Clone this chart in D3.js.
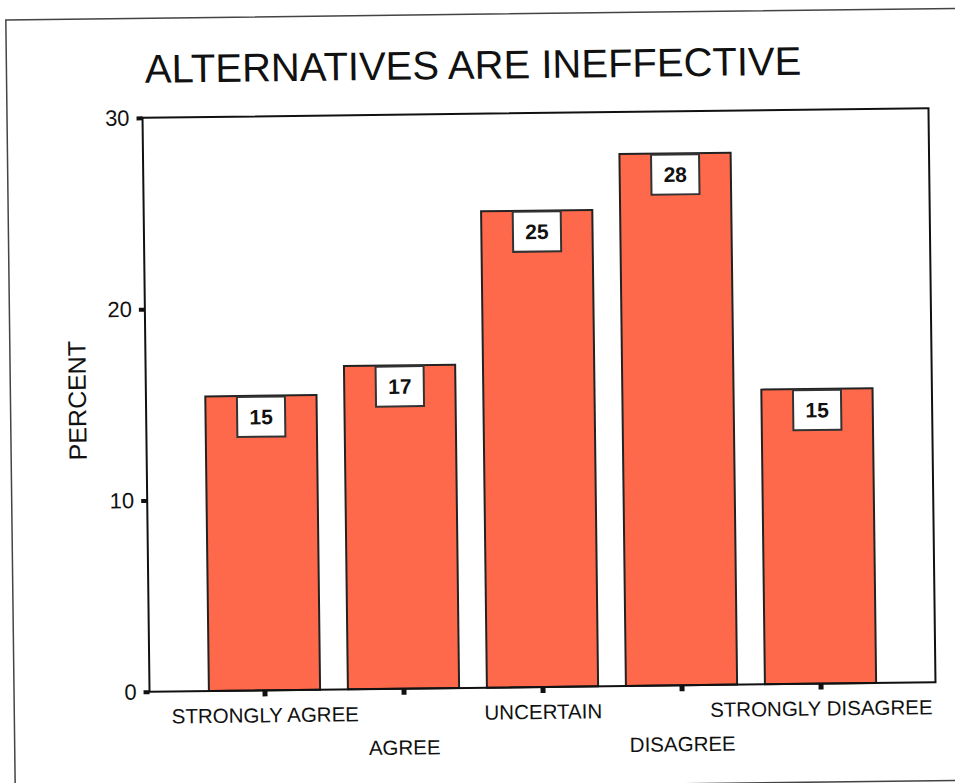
<!DOCTYPE html>
<html>
<head>
<meta charset="utf-8">
<script src="https://cdn.jsdelivr.net/npm/d3@7"></script>
<style>
  body { margin: 0; background: #fff; }
  svg { display: block; }
  text { font-family: "Liberation Sans", Arial, sans-serif; fill: #111; }
</style>
</head>
<body>
<div id="chart"></div>
<script>
// Data
const categories = ["STRONGLY AGREE", "AGREE", "UNCERTAIN", "DISAGREE", "STRONGLY DISAGREE"];
const percents = [15.4, 16.9, 24.9, 27.8, 15.4];
const yTicks = [0, 10, 20, 30];
const title = "ALTERNATIVES ARE INEFFECTIVE";
const yLabel = "PERCENT";

var W = 955, H = 783;
var margin = { top: 113, right: 23, bottom: 96, left: 146 },
    width = W - margin.left - margin.right,
    height = H - margin.top - margin.bottom;

var svg = d3.select("#chart")
    .append("svg")
    .attr("width", W)
    .attr("height", H);

// the original is a scan that sits a little tilted on the page
var page = svg.append("g")
    .attr("transform", "rotate(-0.7, 539, 400)");

// Outer border of the scanned page
page.append("rect")
    .attr("x", 10.5)
    .attr("y", 13.5)
    .attr("width", 1000)
    .attr("height", 772)
    .attr("fill", "none")
    .attr("stroke", "#444")
    .attr("stroke-width", 1.5);

// Title
page.append("text")
    .attr("x", 149)
    .attr("y", 78)
    .attr("font-size", 40)
    .text(title);

var g = page.append("g")
    .attr("transform", "translate(" + margin.left + "," + margin.top + ")");

// Scales
var x = d3.scalePoint()
    .domain(categories)
    .range([0, width])
    .padding(0.827);
var barW = x.step() * 0.8;

var y = d3.scaleLinear()
    .domain([0, 30])
    .range([height, 0]);

// Bars
g.append("g")
    .selectAll("rect")
    .data(percents)
    .enter()
    .append("rect")
    .attr("x", (d, i) => x(categories[i]) - barW / 2)
    .attr("y", d => y(d))
    .attr("width", barW)
    .attr("height", d => height - y(d))
    .attr("fill", "#ff694b")
    .attr("stroke", "#222")
    .attr("stroke-width", 2);

// Value boxes hanging from the top of each bar
var boxW = 48, boxH = 40;
var labels = g.append("g")
    .selectAll("g")
    .data(percents)
    .enter()
    .append("g")
    .attr("transform", (d, i) => "translate(" + x(categories[i]) + "," + (y(d) + 1) + ")");
labels.append("rect")
    .attr("x", -boxW / 2)
    .attr("y", 0)
    .attr("width", boxW)
    .attr("height", boxH)
    .attr("fill", "#fff")
    .attr("stroke", "#333")
    .attr("stroke-width", 2);
labels.append("text")
    .attr("text-anchor", "middle")
    .attr("y", boxH / 2 + 7.5)
    .attr("font-size", 21)
    .attr("font-weight", "bold")
    .text(d => Math.round(d));

// Plot frame
g.append("rect")
    .attr("width", width)
    .attr("height", height)
    .attr("fill", "none")
    .attr("stroke", "#111")
    .attr("stroke-width", 2);

// Y axis
var yAxis = g.append("g")
    .call(d3.axisLeft(y).tickValues(yTicks).tickSize(6).tickPadding(7));
yAxis.select(".domain").remove();
yAxis.selectAll("line").attr("stroke", "#111").attr("stroke-width", 4);
yAxis.selectAll("text")
    .attr("font-size", 22)
    .style("font-family", "'Liberation Sans', Arial, sans-serif")
    .attr("fill", "#111");

// X axis, labels staggered on two rows
var xAxis = g.append("g")
    .attr("transform", "translate(0," + height + ")")
    .call(d3.axisBottom(x).tickSize(6));
xAxis.select(".domain").remove();
xAxis.selectAll("line").attr("stroke", "#111").attr("stroke-width", 5);
xAxis.selectAll("text")
    .attr("y", (d, i) => i % 2 ? 66 : 32)
    .attr("dy", 0)
    .attr("font-size", 20.5)
    .style("font-family", "'Liberation Sans', Arial, sans-serif")
    .attr("fill", "#111");

// Y axis label
page.append("text")
    .attr("text-anchor", "middle")
    .attr("transform", "translate(86,395) rotate(-90)")
    .attr("font-size", 25)
    .text(yLabel);
</script>
</body>
</html>
